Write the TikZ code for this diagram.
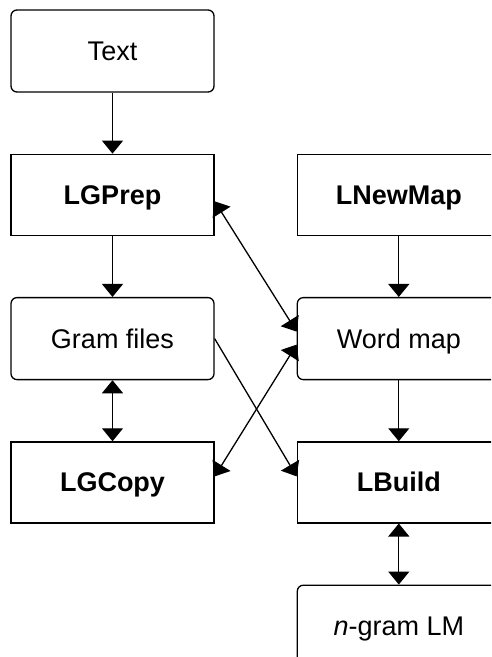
\documentclass[tikz,border=0pt]{standalone}
\usepackage{fontspec}
\setmainfont{Liberation Sans}
\usepackage{tikz}
\usetikzlibrary{positioning,arrows.meta}

\begin{document}
\begin{tikzpicture}[
  node distance=61pt and 82pt,
  filebox/.style={draw, line width=1.3pt, rounded corners=6pt, minimum width=203pt,
                  minimum height=82pt, align=center, inner sep=4pt,
                  text height=19pt, text depth=0pt,
                  font=\fontsize{27}{31}\selectfont},
  toolbox/.style={draw, line width=1.3pt, minimum width=203pt,
                  minimum height=81pt, align=center, inner sep=4pt,
                  text height=19pt, text depth=0pt,
                  font=\fontsize{27}{31}\selectfont\bfseries},
  arr/.style   ={-{Triangle[length=13pt,width=21pt]}, line width=1.3pt},
  darr/.style  ={{Triangle[length=13pt,width=21pt]}-{Triangle[length=13pt,width=21pt]}, line width=1.3pt}]

\path[use as bounding box, clip] (0pt,0pt) rectangle (491pt,-657pt);

\node[filebox] at (112.5pt,-51pt) (text) {Text};
\node[toolbox, below=of text]   (lgprep)  {LGPrep};
\node[filebox, below=of lgprep] (gram)    {Gram files};
\node[toolbox, below=of gram]   (lgcopy)  {LGCopy};
\node[toolbox, right=of lgprep] (lnewmap) {LNewMap};
\node[filebox, below=of lnewmap] (wordmap) {Word map};
\node[toolbox, below=of wordmap] (lbuild)  {LBuild};
\node[filebox, below=of lbuild]  (ngram)   {\textit{n}-gram LM};

\draw[arr]  (text)    -- (lgprep);
\draw[arr]  (lgprep)  -- (gram);
\draw[darr] (gram)    -- (lgcopy);
\draw[arr]  (lnewmap) -- (wordmap);
\draw[arr]  (wordmap) -- (lbuild);
\draw[darr] (lbuild)  -- (ngram);

\draw[darr] ([yshift=-6.5pt]lgprep.east) -- ([yshift=7pt]wordmap.west);
\draw[darr] ([yshift=6pt]lgcopy.east)    -- ([yshift=-6pt]wordmap.west);
\draw[arr]  (gram.east) -- ([yshift=6pt]lbuild.west);
\end{tikzpicture}
\end{document}
